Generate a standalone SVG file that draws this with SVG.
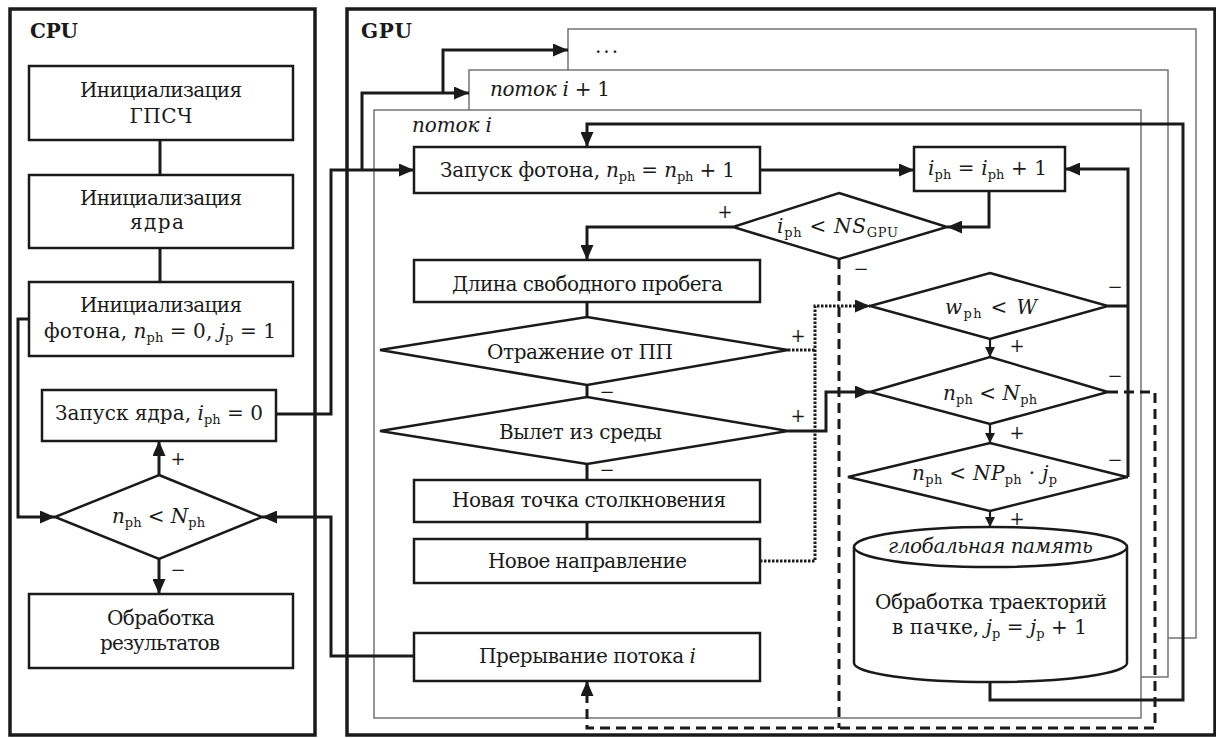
<svg xmlns="http://www.w3.org/2000/svg" width="1216" height="738" viewBox="0 0 1216 738">
<style>
.t{font-family:"DejaVu Serif","Liberation Serif",serif;font-size:20px;fill:#1a1a1a}
.i{font-style:italic}
.s{font-size:13px;font-style:normal}
.b{font-weight:bold}
.l{font-family:"DejaVu Serif","Liberation Serif",serif;font-size:18px;fill:#1a1a1a;text-anchor:middle}
.box{fill:#fff;stroke:#1a1a1a;stroke-width:2.5}
.outer{fill:none;stroke:#1a1a1a;stroke-width:3.5}
.thr{fill:#fff;stroke:#6a6a6a;stroke-width:1.4}
.c{fill:none;stroke:#1a1a1a;stroke-width:3}
.cs{fill:none;stroke:#1a1a1a;stroke-width:2.2}
.dot{fill:none;stroke:#1a1a1a;stroke-width:3;stroke-dasharray:2.5 1.5}
.dash{fill:none;stroke:#1a1a1a;stroke-width:3;stroke-dasharray:10 6}
</style>
<defs>
<marker id="ah" viewBox="0 0 15 13" refX="15" refY="6.5" markerWidth="15" markerHeight="13" markerUnits="userSpaceOnUse" orient="auto"><path d="M0,0 L15,6.5 L0,13 z" fill="#1a1a1a"/></marker>
<marker id="ahs" viewBox="0 0 10 10" refX="10" refY="5" markerWidth="10" markerHeight="10" markerUnits="userSpaceOnUse" orient="auto"><path d="M0,0 L10,5 L0,10 z" fill="#1a1a1a"/></marker>
</defs>
<rect width="1216" height="738" fill="#fff"/>

<g id="cpu">
<rect class="outer" x="10" y="9" width="305" height="726"/>
<text class="t b" x="30" y="38" textLength="48">CPU</text>
</g>
<g id="gpu">
<rect class="outer" x="347" y="9" width="868" height="726"/>
<text class="t b" x="361" y="38" textLength="51">GPU</text>
</g>

<g id="thread-more">
<rect class="thr" x="568" y="29" width="628" height="609"/>
<text class="t" x="595" y="53" textLength="23">...</text>
</g>
<g id="thread-i1">
<rect class="thr" x="469" y="70" width="699" height="607"/>
<text class="t" x="490" y="96" textLength="120"><tspan class="i">поток i</tspan> + 1</text>
</g>
<g id="thread-i">
<rect class="thr" x="374" y="110" width="767" height="608"/>
<text class="t i" x="412" y="132" textLength="80">поток i</text>
</g>

<g id="init-rng">
<rect class="box" x="29" y="66" width="264" height="74"/>
<text class="t" x="161" y="97" text-anchor="middle" textLength="162">Инициализация</text>
<text class="t" x="161" y="123" text-anchor="middle" textLength="63">ГПСЧ</text>
</g>
<g id="init-kernel">
<rect class="box" x="29" y="175" width="264" height="73"/>
<text class="t" x="161" y="205" text-anchor="middle" textLength="162">Инициализация</text>
<text class="t" x="157" y="229" text-anchor="middle" textLength="54">ядра</text>
</g>
<g id="init-photon">
<rect class="box" x="29" y="282" width="264" height="74"/>
<text class="t" x="161" y="312" text-anchor="middle" textLength="162">Инициализация</text>
<text class="t" x="160" y="338" text-anchor="middle" textLength="232">фотона, <tspan class="i">n</tspan><tspan class="s" dy="4">ph</tspan><tspan dy="-4"> = 0, </tspan><tspan class="i">j</tspan><tspan class="s" dy="4">p</tspan><tspan dy="-4"> = 1</tspan></text>
</g>
<g id="launch-kernel">
<rect class="box" x="42" y="390" width="234" height="51"/>
<text class="t" x="159" y="420" text-anchor="middle" textLength="208">Запуск ядра, <tspan class="i">i</tspan><tspan class="s" dy="4">ph</tspan><tspan dy="-4"> = 0</tspan></text>
</g>
<g id="cpu-check">
<polygon class="box" points="159,475 262,517 159,559 55,517"/>
<text class="t" x="158.5" y="523" text-anchor="middle" textLength="93"><tspan class="i">n</tspan><tspan class="s" dy="4">ph</tspan><tspan dy="-4"> &lt; </tspan><tspan class="i">N</tspan><tspan class="s" dy="4">ph</tspan></text>
</g>
<g id="results">
<rect class="box" x="29" y="594" width="264" height="74"/>
<text class="t" x="161" y="625" text-anchor="middle" textLength="108">Обработка</text>
<text class="t" x="160" y="650" text-anchor="middle" textLength="120">результатов</text>
</g>

<g id="launch-photon">
<rect class="box" x="414" y="147" width="346" height="46"/>
<text class="t" x="587.5" y="177" text-anchor="middle" textLength="295">Запуск фотона, <tspan class="i">n</tspan><tspan class="s" dy="4">ph</tspan><tspan dy="-4"> = </tspan><tspan class="i">n</tspan><tspan class="s" dy="4">ph</tspan><tspan dy="-4"> + 1</tspan></text>
</g>
<g id="iph-inc">
<rect class="box" x="914" y="147" width="151" height="44"/>
<text class="t" x="987.5" y="175" text-anchor="middle" textLength="119"><tspan class="i">i</tspan><tspan class="s" dy="4">ph</tspan><tspan dy="-4"> = </tspan><tspan class="i">i</tspan><tspan class="s" dy="4">ph</tspan><tspan dy="-4"> + 1</tspan></text>
</g>
<g id="iph-check">
<polygon class="box" points="839,193 947,227 839,259 733,227"/>
<text class="t" x="837.5" y="233" text-anchor="middle" textLength="121"><tspan class="i">i</tspan><tspan class="s" dy="4">ph</tspan><tspan dy="-4"> &lt; </tspan><tspan class="i">NS</tspan><tspan class="s" dy="4">GPU</tspan></text>
</g>
<g id="free-path">
<rect class="box" x="414" y="260" width="346" height="42"/>
<text class="t" x="587.5" y="291" text-anchor="middle" textLength="271">Длина свободного пробега</text>
</g>
<g id="reflection">
<polygon class="box" points="587,317 788,350 587,385 380,350"/>
<text class="t" x="580" y="359" text-anchor="middle" textLength="186">Отражение от ПП</text>
</g>
<g id="escape">
<polygon class="box" points="587,397 788,431 587,464 380,431"/>
<text class="t" x="580.5" y="439" text-anchor="middle" textLength="163">Вылет из среды</text>
</g>
<g id="new-point">
<rect class="box" x="414" y="480" width="346" height="42"/>
<text class="t" x="589" y="507" text-anchor="middle" textLength="274">Новая точка столкновения</text>
</g>
<g id="new-direction">
<rect class="box" x="414" y="539" width="346" height="44"/>
<text class="t" x="587.5" y="568" text-anchor="middle" textLength="199">Новое направление</text>
</g>
<g id="interrupt">
<rect class="box" x="414" y="633" width="346" height="48"/>
<text class="t" x="587.5" y="663" text-anchor="middle" textLength="217">Прерывание потока <tspan class="i">i</tspan></text>
</g>
<g id="weight-check">
<polygon class="box" points="990,273 1108,306 990,339 870,306"/>
<text class="t" x="991" y="314" text-anchor="middle" textLength="92"><tspan class="i">w</tspan><tspan class="s" dy="4">ph</tspan><tspan dy="-4"> &lt; </tspan><tspan class="i">W</tspan></text>
</g>
<g id="count-check">
<polygon class="box" points="990,357 1108,392 990,424 870,392"/>
<text class="t" x="990" y="400" text-anchor="middle" textLength="94"><tspan class="i">n</tspan><tspan class="s" dy="4">ph</tspan><tspan dy="-4"> &lt; </tspan><tspan class="i">N</tspan><tspan class="s" dy="4">ph</tspan></text>
</g>
<g id="pack-check">
<polygon class="box" points="990,443 1127,477 990,511 848,477"/>
<text class="t" x="984.5" y="480" text-anchor="middle" textLength="145"><tspan class="i">n</tspan><tspan class="s" dy="4">ph</tspan><tspan dy="-4"> &lt; </tspan><tspan class="i">NP</tspan><tspan class="s" dy="4">ph</tspan><tspan dy="-4"> · </tspan><tspan class="i">j</tspan><tspan class="s i" dy="4">p</tspan></text>
</g>
<g id="global-memory">
<path class="box" d="M854,547 L854,663 A136.5,19 0 0 0 1127,663 L1127,547"/>
<ellipse class="box" cx="990.5" cy="547" rx="136.5" ry="20"/>
<text class="t i" x="990.5" y="553" text-anchor="middle" textLength="205">глобальная память</text>
<text class="t" x="991" y="609" text-anchor="middle" textLength="232">Обработка траекторий</text>
<text class="t" x="989.5" y="634" text-anchor="middle" textLength="195">в пачке, <tspan class="i">j</tspan><tspan class="s" dy="4">p</tspan><tspan dy="-4"> = </tspan><tspan class="i">j</tspan><tspan class="s" dy="4">p</tspan><tspan dy="-4"> + 1</tspan></text>
</g>

<g id="connectors">
<path class="c" d="M160,140 V175"/>
<path class="c" d="M160,248 V282"/>
<path class="c" d="M29,319 H18 V517 H55" marker-end="url(#ah)"/>
<path class="c" d="M159,475 V441" marker-end="url(#ah)"/>
<path class="c" d="M159,559 V594" marker-end="url(#ah)"/>
<path class="c" d="M276,414 H331 V170 H414" marker-end="url(#ah)"/>
<path class="c" d="M362,170 V93 H469" marker-end="url(#ah)"/>
<path class="c" d="M443,93 V50 H568" marker-end="url(#ah)"/>
<path class="c" d="M414,656 H331 V517 H262" marker-end="url(#ah)"/>
<path class="c" d="M760,170 H914" marker-end="url(#ah)"/>
<path class="c" d="M989,191 V227 H947" marker-end="url(#ah)"/>
<path class="c" d="M733,227 H587 V260" marker-end="url(#ah)"/>
<path class="c" d="M587,302 V317 M587,385 V397 M587,464 V480 M587,522 V539"/>
<path class="dot" d="M760,561 H815 V306 H870" marker-end="url(#ah)"/>
<path class="dot" d="M788,350 H815"/>
<path class="c" d="M788,431 H826 V392 H870" marker-end="url(#ah)"/>
<path class="c" d="M1108,306 H1128 M1127,477 H1128"/>
<path class="c" d="M1128,477 V169 H1065" marker-end="url(#ah)"/>
<path class="cs" d="M990,339 V357" marker-end="url(#ahs)"/>
<path class="cs" d="M990,424 V443" marker-end="url(#ahs)"/>
<path class="cs" d="M990,511 V527" marker-end="url(#ahs)"/>
<path class="c" d="M990,682 V700 H1183 V124 H587 V147" marker-end="url(#ah)"/>
<path class="dash" d="M839,259 V728"/>
<path class="dash" d="M1108,392 H1155 V728 H587 V681" marker-end="url(#ah)"/>
<text class="l" x="178" y="465">+</text>
<text class="l" x="178" y="576">−</text>
<text class="l" x="725" y="218">+</text>
<text class="l" x="861" y="275">−</text>
<text class="l" x="798" y="342">+</text>
<text class="l" x="607" y="398">−</text>
<text class="l" x="798" y="422">+</text>
<text class="l" x="607" y="476">−</text>
<text class="l" x="1115" y="293">−</text>
<text class="l" x="1115" y="382">−</text>
<text class="l" x="1115" y="466">−</text>
<text class="l" x="1017" y="352">+</text>
<text class="l" x="1017" y="439">+</text>
<text class="l" x="1017" y="525">+</text>
</g>
</svg>
